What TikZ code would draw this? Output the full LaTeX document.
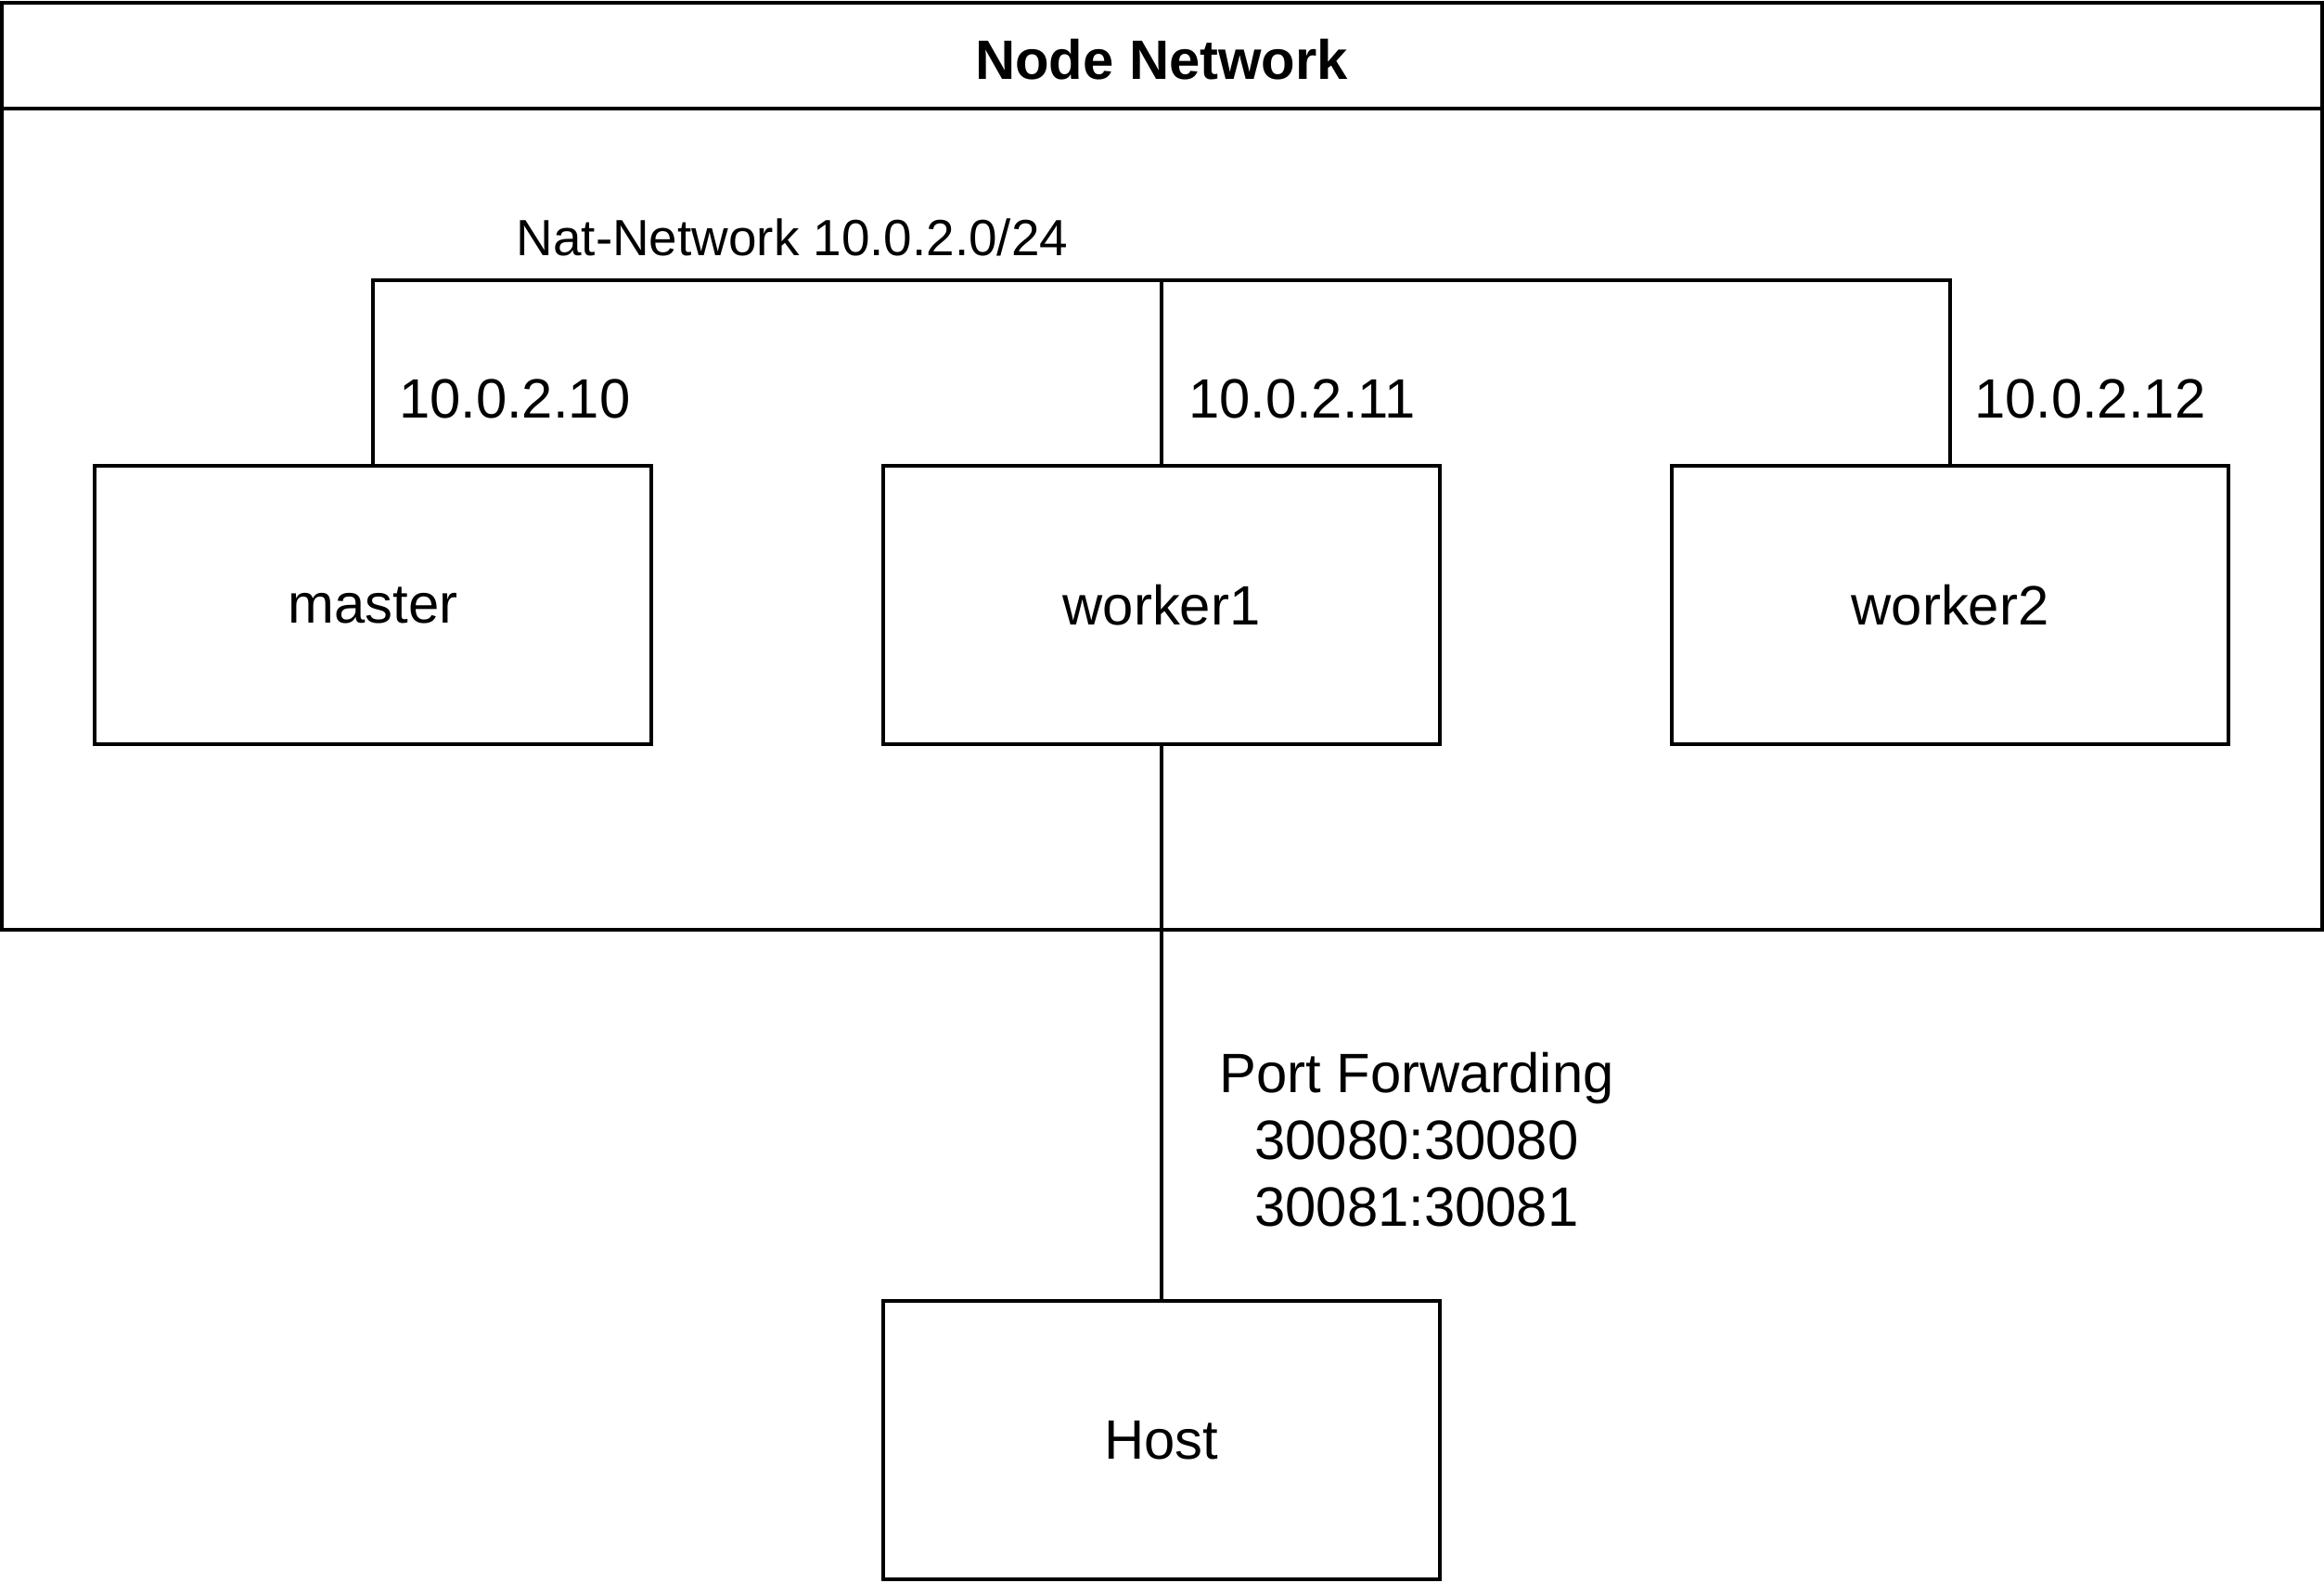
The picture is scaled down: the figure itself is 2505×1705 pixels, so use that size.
\documentclass[tikz,border=0pt]{standalone}
\usepackage{fontspec}
\setmainfont{Liberation Sans}
\begin{document}
\begin{tikzpicture}[x=0.01cm,y=-0.01cm, line width=0.04cm,
  txt/.style={font=\fontsize{17}{20.4}\selectfont},
  box/.style={draw, minimum width=6cm, minimum height=3cm, inner sep=0pt, txt},
  lbl/.style={inner sep=0pt, txt}]
\useasboundingbox (0,0) rectangle (2505,1705);
% container
\node[draw, minimum width=24.99cm, minimum height=9.99cm, inner sep=0pt] (outer) at (1252.5,502.5) {};
\node[draw, minimum width=24.99cm, minimum height=1.14cm, inner sep=0pt, anchor=north] (hdr) at (outer.north) {};
\node[lbl, anchor=base, font=\fontsize{17}{20.4}\selectfont\bfseries] (title) at (1252,85) {Node Network};
% boxes
\node[box] (master)  at (402,652)  {master};
\node[box] (worker1) at (1252,652) {worker1};
\node[box] (worker2) at (2102,652) {worker2};
\node[box] (host)    at (1252,1552) {Host};
% bus
\coordinate (bus) at (0,302);
\draw (master.north) -- (master.north |- bus) -| (worker2.north);
\draw (worker1.north) -- (worker1.north |- bus);
\draw (worker1.south) -- (host.north);
% labels
\node[lbl, anchor=base, font=\fontsize{15.6}{18.7}\selectfont] (natlbl) at (854,275) {Nat-Network 10.0.2.0/24};
\node[lbl, anchor=base west] (ip10) at (428,450) {10.0.2.10};
\node[lbl, anchor=base west] (ip11) at (1279,450) {10.0.2.11};
\node[lbl, anchor=base west] (ip12) at (2126,450) {10.0.2.12};
\node[lbl, align=center] (pf) at (1527,1228) {Port Forwarding\\30080:30080\\30081:30081};
\end{tikzpicture}
\end{document}
